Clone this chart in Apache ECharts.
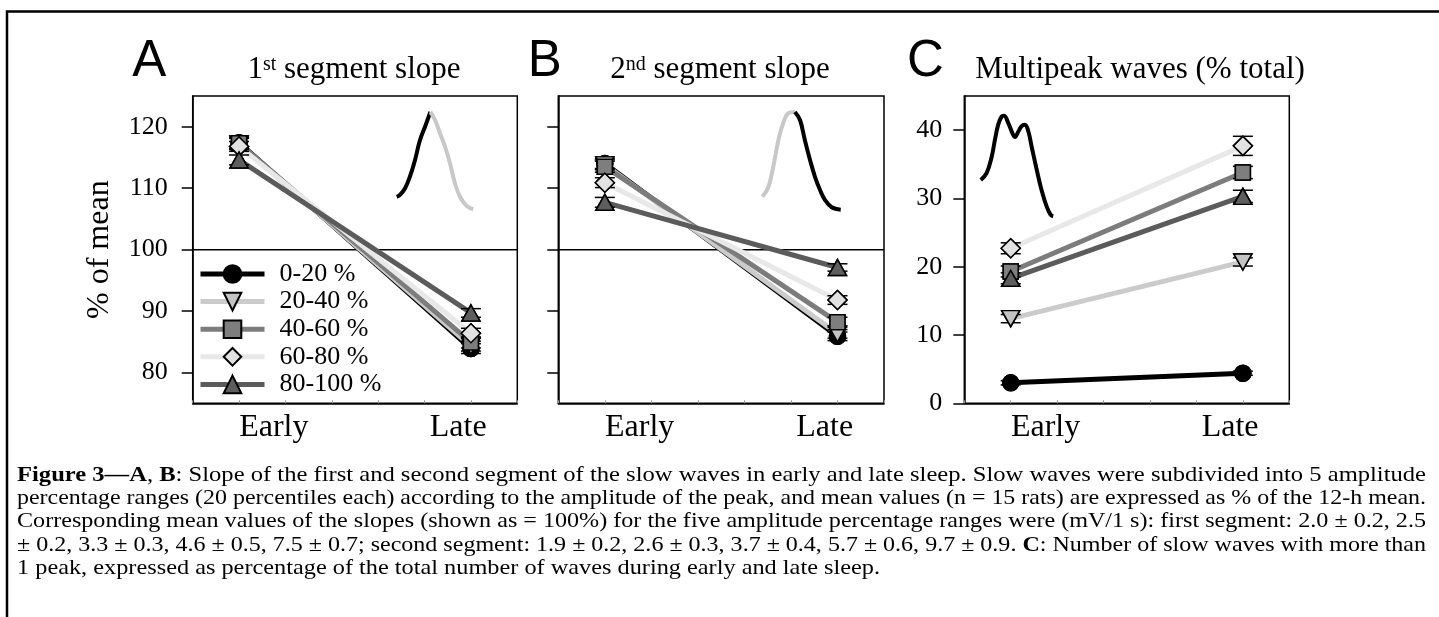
<!DOCTYPE html>
<html><head><meta charset="utf-8">
<script src="https://cdn.jsdelivr.net/npm/echarts@6/dist/echarts.min.js"></script>
<style>html,body{margin:0;padding:0;background:#fff}#c{width:1439px;height:617px}</style>
</head><body><div id="c"></div>
<script>
// ---------------- DATA ----------------
const groups = ['0-20 %', '20-40 %', '40-60 %', '60-80 %', '80-100 %'];
const periods = ['Early', 'Late'];
const periodX = [1, 2];

const yTicksSlope = [80, 90, 100, 110, 120];
const yTicksMulti = [0, 10, 20, 30, 40];
const referenceLevel = 100;

// Panel A: 1st segment slope (% of mean)
const slope1Early = [117.4, 117.2, 117.3, 116.8, 114.6];
const slope1Late  = [83.9, 84.3, 84.9, 86.4, 89.7];
const slope1ErrEarly = [0.9, 0.9, 0.9, 0.8, 0.8];
const slope1ErrLate  = [0.8, 0.8, 0.9, 0.8, 0.7];

// Panel B: 2nd segment slope (% of mean)
const slope2Early = [114.0, 113.8, 113.5, 110.9, 107.7];
const slope2Late  = [85.9, 86.3, 88.2, 91.8, 97.1];
const slope2ErrEarly = [0.8, 0.8, 0.9, 0.8, 0.8];
const slope2ErrLate  = [0.7, 0.7, 0.8, 0.7, 0.6];

// Panel C: multipeak waves (% total)
const multiEarly = [3.0, 12.4, 19.3, 22.7, 18.3];
const multiLate  = [4.4, 20.7, 33.8, 37.7, 30.3];
const multiErrEarly = [0.3, 0.6, 0.8, 0.8, 0.8];
const multiErrLate  = [0.3, 0.6, 0.9, 1.4, 0.9];

// Inset wave sketches (read in each panel's axis units)
const insetA_rise = [[1.680,108.6],[1.694,108.9],[1.716,110.0],[1.737,111.9],[1.759,114.6],[1.780,117.8],[1.802,120.0],[1.825,122.4]];
const insetA_fall = [[1.825,122.4],[1.845,121.1],[1.867,118.9],[1.888,116.8],[1.910,114.0],[1.931,110.8],[1.953,108.6],[1.982,107.1],[2.010,106.6]];
const insetB_rise = [[1.677,108.6],[1.703,110.2],[1.724,113.5],[1.746,117.8],[1.767,120.6],[1.789,122.2],[1.817,122.4]];
const insetB_fall = [[1.817,122.4],[1.839,121.1],[1.860,117.8],[1.882,114.6],[1.903,111.9],[1.925,109.7],[1.946,108.1],[1.975,106.9],[2.014,106.5]];
const insetC_wave = [[0.871,32.7],[0.896,33.7],[0.918,36.1],[0.932,38.6],[0.946,40.8],[0.961,42.0],[0.971,42.1],[0.990,41.0],[1.008,39.5],[1.018,39.0],[1.033,39.8],[1.047,40.6],[1.061,40.8],[1.076,39.8],[1.090,37.6],[1.112,34.2],[1.133,31.2],[1.155,28.8],[1.172,27.6],[1.183,27.4]];

// ---------------- STYLE / LAYOUT ----------------
const SERIF = 'Liberation Serif';
const SANS = 'Liberation Sans';
const styles = [
  {line:'#000000', fill:'#000000', symbol:'circle',   size:16,      rotate:0},
  {line:'#cbcbcb', fill:'#c4c4c4', symbol:'triangle', size:[18,16], rotate:180},
  {line:'#7c7c7c', fill:'#7e7e7e', symbol:'rect',     size:15,      rotate:0},
  {line:'#e8e8e8', fill:'#e2e2e2', symbol:'diamond',  size:[19,19], rotate:0},
  {line:'#5b5b5b', fill:'#5e5e5e', symbol:'triangle', size:[18,16], rotate:0}
];
const labelAt = [1.15, 1.945];

const grids = [
  {left:192.7, top:96, width:324.6, height:307.3},
  {left:558.3, top:96, width:325.7, height:307.3},
  {left:964.3, top:96, width:325,   height:307.3}
];

const xAxes = grids.map((g, i) => ({
  type:'value', gridIndex:i, min:0.8, max:2.2, interval:0.2,
  axisLine:{show:true, lineStyle:{color:'#000', width:1.5}},
  axisTick:{show:true, inside:true, length:3, lineStyle:{color:'#999', width:1}},
  splitLine:{show:false},
  axisLabel:{
    show:true, customValues:labelAt, margin:8,
    formatter:(v) => (v < 1.5 ? periods[0] : periods[1]),
    fontFamily:SERIF, fontSize:32, color:'#000'
  }
}));

function yAxisDef(i, min, max, ticks, showLabels, name) {
  return {
    type:'value', gridIndex:i, min, max,
    axisLine:{show:true, lineStyle:{color:'#000', width:1.5}},
    axisTick:{show:true, length:11, customValues:ticks, lineStyle:{color:'#000', width:1.5}},
    splitLine:{show:false},
    axisLabel:{show:showLabels, customValues:ticks, margin:25, fontFamily:SERIF, fontSize:26, color:'#000'},
    name:name || '', nameLocation:'middle', nameGap:77,
    nameTextStyle:{fontFamily:SERIF, fontSize:32, color:'#000'}
  };
}
const yAxes = [
  yAxisDef(0, 75, 125, yTicksSlope, true, '% of mean'),
  yAxisDef(1, 75, 125, yTicksSlope, false),
  yAxisDef(2, 0, 45, yTicksMulti, true)
];
yAxes[2].axisLabel.margin = 22;

const series = [];

function addPanel(gi, early, late, errE, errL) {
  groups.forEach((name, i) => {
    const s = styles[i];
    const pts = [[periodX[0], early[i]], [periodX[1], late[i]]];
    series.push({
      type:'line', name, xAxisIndex:gi, yAxisIndex:gi, data:pts, z:2 + i * 0.01,
      lineStyle:{color:s.line, width:5}, symbol:s.symbol, symbolSize:s.size, symbolRotate:s.rotate,
      itemStyle:{color:s.fill, borderColor:'#000', borderWidth:1.5}, silent:true, animation:false
    });
  });
  const eb = [];
  groups.forEach((n, i) => {
    eb.push([periodX[0], early[i], errE[i]]);
    eb.push([periodX[1], late[i], errL[i]]);
  });
  series.push({
    type:'custom', xAxisIndex:gi, yAxisIndex:gi, z:3, silent:true, data:eb, encode:{x:0, y:1},
    renderItem(params, api) {
      const x = api.value(0), y = api.value(1), e = api.value(2);
      const t = api.coord([x, y + e]), b = api.coord([x, y - e]);
      const hw = 10, st = {stroke:'#000', lineWidth:1.5};
      return {type:'group', children:[
        {type:'line', shape:{x1:t[0], y1:t[1], x2:b[0], y2:b[1]}, style:st},
        {type:'line', shape:{x1:t[0]-hw, y1:t[1], x2:t[0]+hw, y2:t[1]}, style:st},
        {type:'line', shape:{x1:b[0]-hw, y1:b[1], x2:b[0]+hw, y2:b[1]}, style:st}
      ]};
    }
  });
  groups.forEach((name, i) => {
    const s = styles[i];
    series.push({
      type:'scatter', name:name + ' marker', xAxisIndex:gi, yAxisIndex:gi, z:4 + i * 0.01,
      data:[[periodX[0], early[i]], [periodX[1], late[i]]],
      symbol:s.symbol, symbolSize:s.size, symbolRotate:s.rotate,
      itemStyle:{color:s.fill, borderColor:'#000', borderWidth:1.5, opacity:1}, silent:true
    });
  });
}
function addCurve(gi, pts, color, name) {
  series.push({type:'line', name, xAxisIndex:gi, yAxisIndex:gi, data:pts, smooth:0.4, symbol:'none', z:1,
    lineStyle:{color, width:4}, silent:true});
}
function addRef(gi) {
  series.push({type:'line', name:'ref' + gi, xAxisIndex:gi, yAxisIndex:gi,
    data:[[0.8, referenceLevel], [2.2, referenceLevel]], symbol:'none', z:1,
    lineStyle:{color:'#000', width:1.5}, silent:true});
}

addRef(0); addRef(1);
addCurve(0, insetA_rise, '#000', 'insetA1');
addCurve(0, insetA_fall, '#c8c8c8', 'insetA2');
addCurve(1, insetB_rise, '#c8c8c8', 'insetB1');
addCurve(1, insetB_fall, '#000', 'insetB2');
addCurve(2, insetC_wave, '#000', 'insetC');
addPanel(0, slope1Early, slope1Late, slope1ErrEarly, slope1ErrLate);
addPanel(1, slope2Early, slope2Late, slope2ErrEarly, slope2ErrLate);
addPanel(2, multiEarly, multiLate, multiErrEarly, multiErrLate);

// ---------------- CAPTION ----------------
const captionLines = [
  [['Figure 3\u2014A', 1], [', ', 0], ['B', 1], [': Slope of the first and second segment of the slow waves in early and late sleep. Slow waves were subdivided into 5 amplitude', 0]],
  [['percentage ranges (20 percentiles each) according to the amplitude of the peak, and mean values (n = 15 rats) are expressed as % of the 12-h mean.', 0]],
  [['Corresponding mean values of the slopes (shown as = 100%) for the five amplitude percentage ranges were (mV/1 s): first segment: 2.0 \u00b1 0.2, 2.5', 0]],
  [['\u00b1 0.2, 3.3 \u00b1 0.3, 4.6 \u00b1 0.5, 7.5 \u00b1 0.7; second segment: 1.9 \u00b1 0.2, 2.6 \u00b1 0.3, 3.7 \u00b1 0.4, 5.7 \u00b1 0.6, 9.7 \u00b1 0.9. ', 0], ['C', 1], [': Number of slow waves with more than', 0]],
  [['1 peak, expressed as percentage of the total number of waves during early and late sleep.', 0]]
];
const capFont = 21.5, capLeft = 17, capWidths = [1409, 1409, 1409, 1409, 863];
const capY = [475, 498.3, 521.6, 545, 568.3];
const ctx = document.createElement('canvas').getContext('2d');
function measure(segs) {
  let w = 0;
  segs.forEach(([t, b]) => { ctx.font = (b ? 'bold ' : '') + capFont + 'px "' + SERIF + '"'; w += ctx.measureText(t).width; });
  return w;
}
const graphics = [];
captionLines.forEach((segs, li) => {
  const txt = segs.map(([t, b]) => '{' + (b ? 'b' : 'n') + '|' + t + '}').join('');
  const sx = capWidths[li] / measure(segs);
  graphics.push({type:'text', x:capLeft, y:capY[li], scaleX:sx, silent:true,
    style:{text:txt, align:'left', verticalAlign:'middle', fill:'#000',
      rich:{b:{fontFamily:SERIF, fontSize:capFont, fontWeight:'bold', fill:'#000'}, n:{fontFamily:SERIF, fontSize:capFont, fill:'#000'}}}});
});

// Panel letters and titles
[['A', 149.2], ['B', 544.7], ['C', 925.5]].forEach(([t, x]) => {
  graphics.push({type:'text', x, y:62, silent:true,
    style:{text:t, fontFamily:SANS, fontSize:51, fill:'#000', align:'center', verticalAlign:'middle'}});
});
const titleRich = {m:{fontFamily:SERIF, fontSize:31, fill:'#000', verticalAlign:'bottom'}, s:{fontFamily:SERIF, fontSize:20, fill:'#000', verticalAlign:'top'}};
graphics.push({type:'text', x:354, y:70, silent:true, style:{text:'{m|1}{s|st}{m| segment slope}', rich:titleRich, align:'center', verticalAlign:'middle'}});
graphics.push({type:'text', x:720, y:70, silent:true, style:{text:'{m|2}{s|nd}{m| segment slope}', rich:titleRich, align:'center', verticalAlign:'middle'}});
graphics.push({type:'text', x:1140, y:70, silent:true, style:{text:'Multipeak waves (% total)', fontFamily:SERIF, fontSize:31, fill:'#000', align:'center', verticalAlign:'middle'}});

// Figure frame (top and left rules)
graphics.push({type:'polyline', silent:true, shape:{points:[[7, 617], [7, 11.5], [1439, 11.5]]}, style:{stroke:'#000', lineWidth:2.5, fill:null}});

const option = {
  animation:false,
  backgroundColor:'#fff',
  grid:grids.map(g => Object.assign({show:true, borderColor:'#000', borderWidth:1.5, backgroundColor:'transparent', containLabel:false, outerBoundsMode:'none'}, g)),
  xAxis:xAxes,
  yAxis:yAxes,
  legend:{
    data:groups, left:198, top:261, orient:'vertical', padding:0,
    itemWidth:64, itemHeight:22, itemGap:1.6, selectedMode:false,
    lineStyle:{width:5},
    textStyle:{fontFamily:SERIF, fontSize:26, lineHeight:22, color:'#000', padding:[0, 0, 0, 10]}
  },
  series,
  graphic:graphics
};
const chart = echarts.init(document.getElementById('c'), null, {renderer:'canvas'});
chart.setOption(option);
</script></body></html>
